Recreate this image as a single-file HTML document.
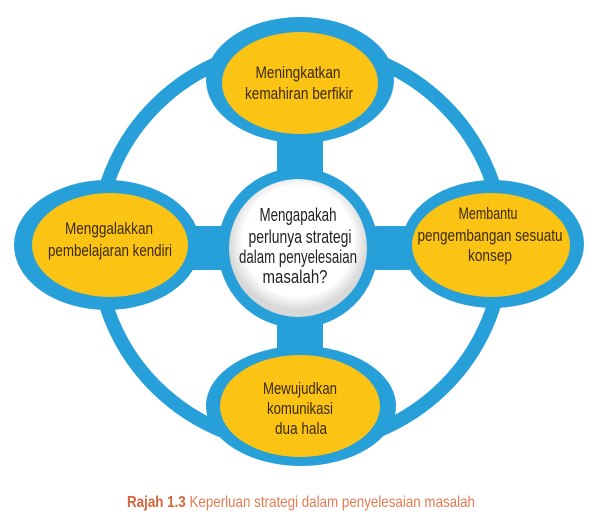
<!DOCTYPE html>
<html><head><meta charset="utf-8"><style>
html,body{margin:0;padding:0;background:#fff;}
svg text{font-family:"Liberation Sans",sans-serif;}
</style></head><body>
<svg width="600" height="513" viewBox="0 0 600 513" xmlns="http://www.w3.org/2000/svg">
<defs>
<radialGradient id="wg" cx="50%" cy="45%" r="50%">
<stop offset="0.8" stop-color="#ffffff"/><stop offset="1" stop-color="#d8d8d8"/>
</radialGradient>
</defs>
<rect width="600" height="513" fill="#fff"/>
<ellipse cx="300" cy="246" rx="203" ry="200" fill="none" stroke="#279fd9" stroke-width="14"/>
<rect x="277" y="120" width="46" height="250" fill="#279fd9"/>
<rect x="180" y="226" width="240" height="44" fill="#279fd9"/>
<circle cx="298" cy="248" r="80" fill="#279fd9"/>
<circle cx="298" cy="248" r="69" fill="url(#wg)"/>
<ellipse cx="300" cy="80" rx="94" ry="63" fill="#279fd9"/>
<ellipse cx="300" cy="83" rx="78" ry="51" fill="#fbc314"/>
<ellipse cx="107" cy="245" rx="93" ry="65" fill="#279fd9"/>
<ellipse cx="110" cy="245" rx="78" ry="52" fill="#fbc314"/>
<ellipse cx="493" cy="244" rx="91" ry="64" fill="#279fd9"/>
<ellipse cx="491" cy="245" rx="79" ry="52" fill="#fbc314"/>
<ellipse cx="301" cy="406" rx="95" ry="60" fill="#279fd9"/>
<ellipse cx="300" cy="406" rx="80" ry="51" fill="#fbc314"/>
<g font-size="17" fill="#3b2a0c" text-anchor="middle" lengthAdjust="spacingAndGlyphs">
<text x="298" y="78" textLength="85" lengthAdjust="spacingAndGlyphs">Meningkatkan</text>
<text x="299" y="99" textLength="108" lengthAdjust="spacingAndGlyphs">kemahiran berfikir</text>
<text x="109" y="234" textLength="88" lengthAdjust="spacingAndGlyphs">Menggalakkan</text>
<text x="110" y="256" textLength="124" lengthAdjust="spacingAndGlyphs">pembelajaran kendiri</text>
<text x="488" y="219" textLength="59" lengthAdjust="spacingAndGlyphs">Membantu</text>
<text x="490" y="241" textLength="145" lengthAdjust="spacingAndGlyphs">pengembangan sesuatu</text>
<text x="490" y="261" textLength="44" lengthAdjust="spacingAndGlyphs">konsep</text>
<text x="300" y="394" textLength="74" lengthAdjust="spacingAndGlyphs">Mewujudkan</text>
<text x="300" y="414" textLength="66" lengthAdjust="spacingAndGlyphs">komunikasi</text>
<text x="301" y="434" textLength="52" lengthAdjust="spacingAndGlyphs">dua hala</text>
</g>
<g font-size="18" fill="#222" text-anchor="middle">
<text x="298" y="221" textLength="77" lengthAdjust="spacingAndGlyphs">Mengapakah</text>
<text x="300" y="243" textLength="103" lengthAdjust="spacingAndGlyphs">perlunya strategi</text>
<text x="298" y="263" textLength="118" lengthAdjust="spacingAndGlyphs">dalam penyelesaian</text>
<text x="295" y="283" textLength="65" lengthAdjust="spacingAndGlyphs">masalah?</text>
</g>
<text x="301" y="507" font-size="16" fill="#e47b52" text-anchor="middle" textLength="348" lengthAdjust="spacingAndGlyphs"><tspan font-weight="bold" fill="#d8643a">Rajah 1.3</tspan> Keperluan strategi dalam penyelesaian masalah</text>
</svg>
</body></html>
